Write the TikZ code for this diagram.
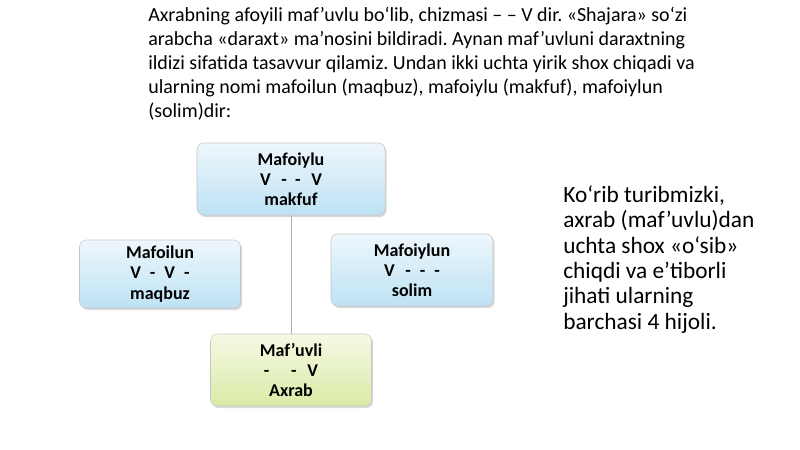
\documentclass[tikz,border=0pt]{standalone}
\usepackage{fontspec}
\setmainfont{Carlito}
\usepackage{xcolor}
\usetikzlibrary{positioning,calc,shadows}

\definecolor{bluetop}{HTML}{EEF7FC}
\definecolor{bluebot}{HTML}{BDE2F4}
\definecolor{greentop}{HTML}{F6F9E4}
\definecolor{greenbot}{HTML}{D9EBA6}

\tikzset{
  footbox/.style={draw=gray!45, rounded corners=5pt, align=center,
    font=\fontsize{12.8}{14.4}\selectfont\bfseries,
    drop shadow={shadow xshift=1.2pt, shadow yshift=-1.5pt, opacity=0.3},
    top color=bluetop, bottom color=bluebot},
  rootbox/.style={footbox, top color=greentop, bottom color=greenbot}
}

\begin{document}
\frenchspacing
\begin{tikzpicture}[x=0.025cm, y=-0.025cm]
		\useasboundingbox (0,0) rectangle (800,449);
		
		\node[anchor=north west, align=left, inner sep=0pt,
		      font=\fontsize{14.2}{17.1}\selectfont] (intro) at (148,7)
		  {Axrabning afoyili maf’uvlu bo‘lib, chizmasi – – V dir. «Shajara» so‘zi\\
		   arabcha «daraxt» ma’nosini bildiradi. Aynan maf’uvluni daraxtning\\
		   ildizi sifatida tasavvur qilamiz. Undan ikki uchta yirik shox chiqadi va\\
		   ularning nomi mafoilun (maqbuz), mafoiylu (makfuf), mafoiylun\\
		   (solim)dir:};
		
		% root and branches
		\node[rootbox, minimum width=4.025cm, minimum height=1.8cm] (axrab) at (291,370)
		  {Maf’uvli\\-\hspace{1.2em}-\hspace{0.6em}V\\Axrab};
		\node[footbox, minimum width=4.7cm, minimum height=1.8cm] (makfuf) at (291,179)
		  {Mafoiylu\\V\hspace{0.6em}-\hspace{0.45em}-\hspace{0.6em}V\\makfuf};
		\node[footbox, minimum width=4.025cm, minimum height=1.7cm] (maqbuz) at (160,274)
		  {Mafoilun\\V\hspace{0.5em}-\hspace{0.5em}V\hspace{0.5em}-\\maqbuz};
		\node[footbox, minimum width=4.05cm, minimum height=1.8cm] (solim) at (412,270)
		  {Mafoiylun\\V\hspace{0.6em}-\hspace{0.5em}-\hspace{0.5em}-\\solim};
		
		\draw[gray!60, thin] (makfuf.south) -- (axrab.north);
		
		\node[anchor=north west, align=left, inner sep=0pt,
		      font=\fontsize{16.6}{18.1}\selectfont] (izoh) at (563,185)
		  {Ko‘rib turibmizki,\\
		   axrab (maf’uvlu)dan\\
		   uchta shox «o‘sib»\\
		   chiqdi va e’tiborli\\
		   jihati ularning\\
		   barchasi 4 hijoli.};
	\end{tikzpicture}
\end{document}
